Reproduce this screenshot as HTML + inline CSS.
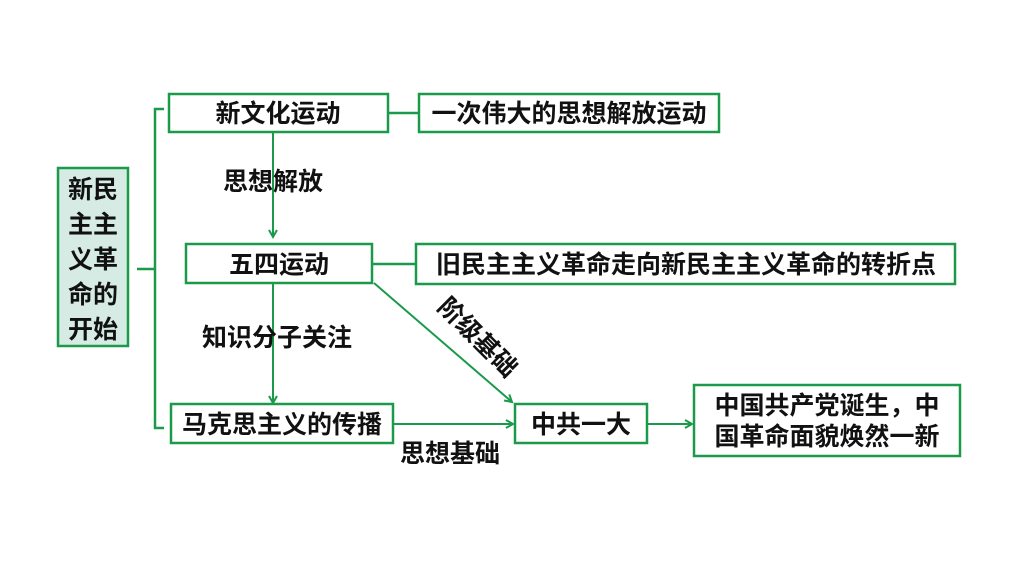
<!DOCTYPE html>
<html><head><meta charset="utf-8"><style>
html,body{margin:0;padding:0;background:#fff;}
svg{display:block}
text{font-family:"Liberation Sans","Noto Sans CJK SC",sans-serif;font-size:25px;fill:#111;font-weight:bold}
</style></head><body>
<svg width="1024" height="576" viewBox="0 0 1024 576" xmlns="http://www.w3.org/2000/svg">
<defs>
<marker id="a" markerWidth="10" markerHeight="10" refX="8" refY="5" orient="auto" markerUnits="userSpaceOnUse">
<path d="M1,1 L8,5 L1,9" fill="none" stroke="#1a9a4a" stroke-width="2"/>
</marker>
</defs>
<g fill="none" stroke="#1a9a4a" stroke-width="2.5">
<rect x="58" y="168" width="70" height="178" fill="#d5ebe4"/>
<path d="M164,109 H155 V428 H164"/>
<path d="M137,269 H155"/>
<rect x="169" y="94" width="219" height="38"/>
<rect x="419" y="94" width="300" height="38"/>
<path d="M388,113 H419"/>
<rect x="186" y="244" width="186" height="39"/>
<rect x="416" y="244" width="539" height="40"/>
<path d="M372,264 H416"/>
<rect x="171" y="404" width="222" height="39"/>
<rect x="515" y="404" width="132" height="39"/>
<rect x="694" y="385" width="266" height="71"/>
</g>
<g stroke="#1a9a4a" stroke-width="2" fill="none">
<path d="M273,132 V237" marker-end="url(#a)"/>
<path d="M273,283 V403" marker-end="url(#a)"/>
<path d="M393,424 H513" marker-end="url(#a)"/>
<path d="M647,424 H692" marker-end="url(#a)"/>
<path d="M374,283 L512,402" marker-end="url(#a)"/>
</g>
<text x="93" y="198" text-anchor="middle">新民</text>
<text x="93" y="233" text-anchor="middle">主主</text>
<text x="93" y="268" text-anchor="middle">义革</text>
<text x="93" y="303" text-anchor="middle">命的</text>
<text x="93" y="338" text-anchor="middle">开始</text>
<text x="278" y="122" text-anchor="middle">新文化运动</text>
<text x="569" y="122" text-anchor="middle">一次伟大的思想解放运动</text>
<text x="273" y="190" text-anchor="middle">思想解放</text>
<text x="279" y="273" text-anchor="middle">五四运动</text>
<text x="686" y="273" text-anchor="middle">旧民主主义革命走向新民主主义革命的转折点</text>
<text x="277" y="346" text-anchor="middle">知识分子关注</text>
<text x="282" y="433" text-anchor="middle">马克思主义的传播</text>
<text x="581" y="433" text-anchor="middle">中共一大</text>
<text x="450" y="462" text-anchor="middle">思想基础</text>
<text x="827" y="414" text-anchor="middle">中国共产党诞生，中</text>
<text x="827" y="445" text-anchor="middle">国革命面貌焕然一新</text>
<text x="0" y="9" text-anchor="middle" transform="translate(478,337) rotate(45)">阶级基础</text>
</svg>
</body></html>
